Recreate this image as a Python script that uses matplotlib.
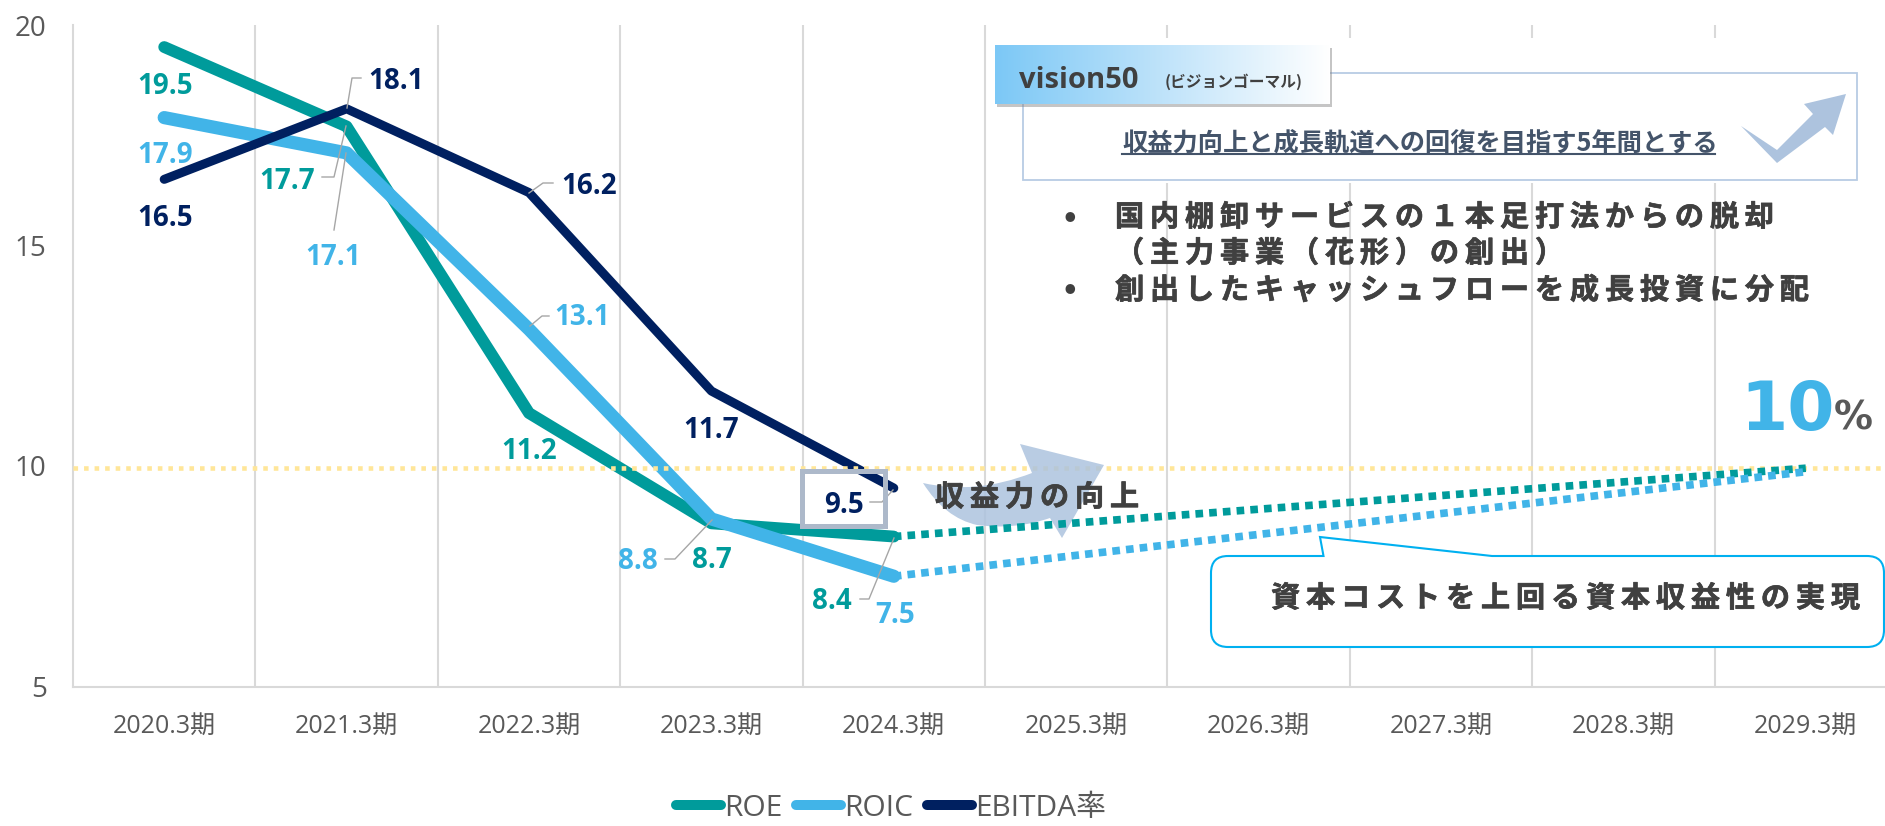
import numpy as np
import matplotlib
matplotlib.use("Agg")
import matplotlib.pyplot as plt
import matplotlib.patheffects as pe
from matplotlib.lines import Line2D
from matplotlib.patches import PathPatch, Rectangle
from matplotlib.path import Path

# ---------------- data ----------------

periods = ["2020.3期", "2021.3期", "2022.3期", "2023.3期", "2024.3期",
           "2025.3期", "2026.3期", "2027.3期", "2028.3期", "2029.3期"]
roe = [19.5, 17.7, 11.2, 8.7, 8.4]
roic = [17.9, 17.1, 13.1, 8.8, 7.5]
ebitda = [16.5, 18.1, 16.2, 11.7, 9.5]
roe_target = [8.4, 9.95]
roic_target = [7.5, 9.87]
target_idx = [4, 9]
target_line = 9.95
yticks = [5, 10, 15, 20]

# label offsets from the point, in pixels
roe_off = [(1, -39), (-59, -55), (0, -38), (0, -37), (-62, -65)]
roic_off = [(1, -38), (-13, -105), (53, 12), (-74, -43), (1, -39)]
ebitda_off = [(1, -39), (50, 27), (60, 6), (0, -39), (-50, -17)]

C_ROE = "#009B9B"
C_ROIC = "#41B4E8"
C_EBITDA = "#002060"
C_GRID = "#D9D9D9"
C_TEXT = "#595959"
C_DARK = "#404040"
C_ARROW = "#ADC3DE"

W, H = 1885, 826
LATIN = ["Open Sans", "Noto Sans CJK JP"]
CJK = ["Noto Sans CJK JP", "DejaVu Sans"]
plt.rcParams["font.family"] = LATIN
HEAVY = [pe.withStroke(linewidth=0.5, foreground=C_DARK)]


def spaced(s):
    # the slide text has wide tracking, thin spaces get close to it
    return "\u2009".join(s)


# ---------------- chart ----------------

fig = plt.figure(figsize=(W / 100, H / 100), dpi=100, facecolor="white")
ax = fig.add_axes([73 / W, (H - 686.5) / H, 1824 / W, 661.5 / H])
ax.set_xlim(-0.5, 9.5)
ax.set_ylim(5, 20)

for side in ["top", "right"]:
    ax.spines[side].set_visible(False)
for side in ["left", "bottom"]:
    ax.spines[side].set_color(C_GRID)
    ax.spines[side].set_linewidth(1.5)

ax.set_xticks(range(len(periods)))
ax.set_xticklabels(periods, fontsize=18, color=C_TEXT)
ax.set_xticks(np.arange(0.5, 9.5), minor=True)
ax.set_yticks(yticks)
ax.set_yticklabels([str(v) for v in yticks], fontsize=20, color=C_TEXT)
ax.tick_params(axis="both", which="both", length=0)
ax.tick_params(axis="x", pad=19.5)
ax.tick_params(axis="y", pad=19)
ax.grid(True, axis="x", which="minor", color=C_GRID, lw=1.5)
ax.set_axisbelow(True)

xs = list(range(5))
ax.plot(xs, roe, color=C_ROE, lw=8.5, solid_capstyle="round", solid_joinstyle="round", zorder=3)
ax.plot(xs, roic, color=C_ROIC, lw=9.5, solid_capstyle="round", solid_joinstyle="round", zorder=4)
ax.plot(xs, ebitda, color=C_EBITDA, lw=6.5, solid_capstyle="round", solid_joinstyle="round", zorder=5)

ax.plot(target_idx, roe_target, color=C_ROE, lw=5.5, dashes=(1, 0.8), dash_capstyle="butt", zorder=7)
ax.plot(target_idx, roic_target, color=C_ROIC, lw=5.5, dashes=(1, 0.8), dash_capstyle="butt", zorder=7)
ax.axhline(target_line, color="#FFE699", lw=3.3, dashes=(1, 1.3), dash_capstyle="butt", zorder=6)

for vals, offs, col in [(roe, roe_off, C_ROE), (roic, roic_off, C_ROIC), (ebitda, ebitda_off, C_EBITDA)]:
    for i, (v, off) in enumerate(zip(vals, offs)):
        ax.annotate(f"{v:.1f}", xy=(i, v), xytext=off, textcoords="offset pixels",
                    ha="center", va="center", fontsize=20, fontweight="bold", color=col, zorder=8)

handles = [Line2D([], [], color=c, lw=7.2, solid_capstyle="round", label=n)
           for c, n in [(C_ROE, "ROE"), (C_ROIC, "ROIC"), (C_EBITDA, "EBITDA率")]]
leg = ax.legend(handles=handles, loc="center left", bbox_to_anchor=(676 / W, (H - 808) / H),
                bbox_transform=fig.transFigure, ncol=3, frameon=False, fontsize=21.5,
                handlelength=1.5, handletextpad=0.1, columnspacing=0.48, borderpad=0, borderaxespad=0)
for t in leg.get_texts():
    t.set_color(C_TEXT)

# ---------------- slide shapes, in pixels ----------------

ov = fig.add_axes([0, 0, 1, 1])
ov.set_xlim(0, W)
ov.set_ylim(H, 0)
ov.axis("off")

# leader lines of the labels
leaders = [
    [(322, 177), (334, 177), (346, 126)],
    [(361, 78), (352, 78), (347, 108)],
    [(334, 230), (346, 153)],
    [(553, 183), (543, 183), (529, 193)],
    [(549, 316), (542, 316), (530, 326)],
    [(665, 559), (675, 559), (712, 520)],
    [(860, 599), (869, 599), (894, 538)],
    [(870, 502), (882, 502), (893, 490)],
]
for pts in leaders:
    ov.plot([p[0] for p in pts], [p[1] for p in pts], color="#A6A6A6", lw=1, zorder=2)

ov.add_patch(Rectangle((801.5, 471), 83, 55, fill=False, ec="#ADB9CA", lw=3.6, zorder=2))

# big arrow behind 収益力の向上, sits between the yellow line and the dotted lines
verts = [(923, 483), (975, 495), (1032, 473), (1020, 444), (1104, 465), (1062, 538), (1050, 518),
         (1015, 530), (977, 525), (945, 518), (923, 483)]
codes = [Path.MOVETO, Path.CURVE3, Path.CURVE3, Path.LINETO, Path.LINETO, Path.LINETO, Path.LINETO,
         Path.CURVE3, Path.CURVE3, Path.CURVE3, Path.CURVE3]
ax.add_patch(PathPatch(Path(verts, codes), fc=C_ARROW, ec="none", alpha=0.85, zorder=6.5,
                       transform=ov.transData))
ov.text(935, 497, spaced("収益力の向上"), family=CJK, fontsize=21, fontweight="bold",
        color=C_DARK, va="center", zorder=5, path_effects=HEAVY)

# vision50 panel, hides the gridlines behind it
ov.add_patch(Rectangle((990, 38), 875, 145, fc="white", ec="none", zorder=6))
ov.add_patch(Rectangle((1022.5, 73), 834, 107, fc="white", ec="#B8CCE4", lw=1.3, zorder=7))
ov.add_patch(Rectangle((997, 48), 335, 59, fc="#808080", ec="none", alpha=0.45, zorder=7))
grad = np.linspace(0, 1, 256).reshape(1, -1)
cmap = matplotlib.colors.LinearSegmentedColormap.from_list("tab", ["#7CC8F6", "#BFE3FA", "#FFFFFF"])
ov.imshow(grad, cmap=cmap, extent=(995, 1330, 104, 45), aspect="auto", zorder=8)
ov.set_xlim(0, W)
ov.set_ylim(H, 0)
ov.text(1019, 80, "vision50", fontsize=21, fontweight="bold", color=C_DARK, va="center", zorder=9)
ov.text(1165, 82, "(ビジョンゴーマル)", family=CJK, fontsize=11.3, fontweight="bold", color=C_DARK,
        va="center", zorder=9)
ov.text(1122, 143, "収益力向上と成長軌道への回復を目指す5年間とする", family=CJK, fontsize=18.2,
        fontweight="bold", color="#44546A", va="center", zorder=9)
ov.plot([1122, 1715], [154, 154], color="#44546A", lw=1.5, zorder=9)

verts = [(1741, 126), (1777, 150), (1813, 114), (1804, 104), (1846, 94),
         (1833, 135), (1825, 127), (1777, 163), (1741, 126)]
ov.add_patch(PathPatch(Path(verts), fc=C_ARROW, ec="none", zorder=9))

# bullets
for y, s in [(217, "国内棚卸サービスの１本足打法からの脱却"), (253, "（主力事業（花形）の創出）"),
             (290, "創出したキャッシュフローを成長投資に分配")]:
    ov.text(1115, y, spaced(s), family=CJK, fontsize=21, fontweight="bold", color=C_DARK,
            va="center", zorder=9, path_effects=HEAVY)
for y in [217, 290]:
    ov.text(1070, y, "•", family=CJK, fontsize=24, fontweight="bold", color=C_DARK,
            ha="center", va="center", zorder=9)

# 10%
ov.text(1740, 430, "10", family="DejaVu Sans", fontsize=49, fontweight="bold", color=C_ROIC,
        va="baseline", zorder=9)
ov.text(1834, 430, "%", family="DejaVu Sans", fontsize=28, fontweight="bold", color=C_TEXT,
        va="baseline", zorder=9)

# callout
x0, x1, y0, y1, r = 1211, 1884, 556, 647, 17
verts = [(x0 + r, y0), (1323.5, y0), (1320, 537), (1492, y0), (x1 - r, y0), (x1, y0), (x1, y0 + r),
         (x1, y1 - r), (x1, y1), (x1 - r, y1), (x0 + r, y1), (x0, y1), (x0, y1 - r),
         (x0, y0 + r), (x0, y0), (x0 + r, y0)]
codes = [Path.MOVETO, Path.LINETO, Path.LINETO, Path.LINETO, Path.LINETO, Path.CURVE3, Path.CURVE3,
         Path.LINETO, Path.CURVE3, Path.CURVE3, Path.LINETO, Path.CURVE3, Path.CURVE3,
         Path.LINETO, Path.CURVE3, Path.CURVE3]
ov.add_patch(PathPatch(Path(verts, codes), fc="white", ec="#00B0F0", lw=1.5, zorder=7))
ov.text(1271, 598, spaced("資本コストを上回る資本収益性の実現"), family=CJK, fontsize=21,
        fontweight="bold", color=C_DARK, va="center", zorder=9, path_effects=HEAVY)

fig.savefig("out.png", dpi=100)
